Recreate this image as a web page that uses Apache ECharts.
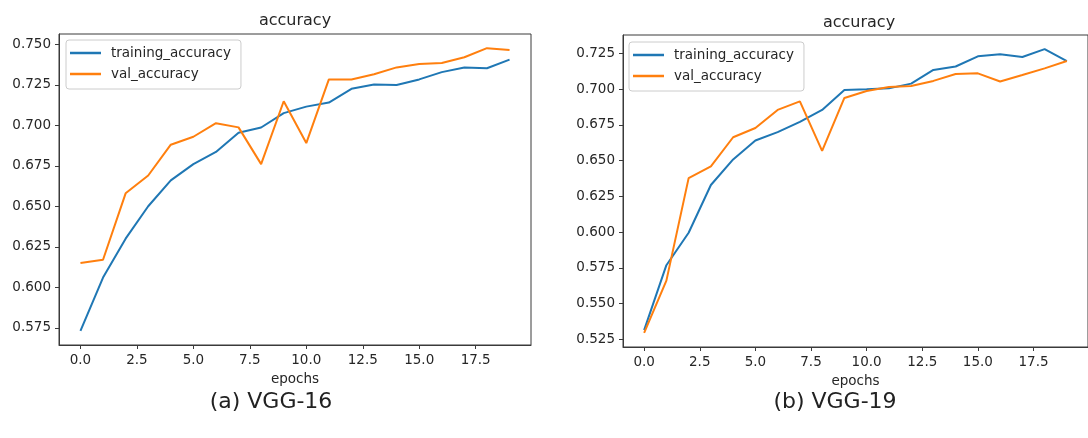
<!DOCTYPE html>
<html>
<head>
<meta charset="utf-8">
<script src="https://cdn.jsdelivr.net/npm/echarts@6/dist/echarts.min.js"></script>
<style>
html,body{margin:0;padding:0;background:#fff;}
#chart{width:1088px;height:438px;}
</style>
</head>
<body>
<div id="chart"></div>
<script>
// ---- data ----
const epochs = [0,1,2,3,4,5,6,7,8,9,10,11,12,13,14,15,16,17,18,19];
const seriesNames = ['training_accuracy', 'val_accuracy'];
const vgg16Train = [0.5731,0.606,0.630,0.650,0.666,0.676,0.6835,0.6954,0.6986,0.7075,0.7115,0.714,0.7225,0.7252,0.7248,0.7283,0.7328,0.7357,0.7352,0.7405];
const vgg16Val   = [0.615,0.617,0.658,0.669,0.688,0.6929,0.7013,0.6987,0.676,0.7148,0.689,0.7283,0.7283,0.7315,0.7357,0.7378,0.7384,0.742,0.7476,0.7465];
const vgg19Train = [0.5314,0.5768,0.5995,0.6329,0.6508,0.664,0.6699,0.6771,0.6854,0.6993,0.6998,0.7005,0.7038,0.7134,0.7158,0.7229,0.7244,0.7224,0.7279,0.7196];
const vgg19Val   = [0.5295,0.566,0.6377,0.646,0.6663,0.6728,0.6854,0.6914,0.6568,0.6938,0.6986,0.7014,0.7021,0.7057,0.7105,0.711,0.7053,0.7098,0.7145,0.7196];
const xTicks = [0,2.5,5,7.5,10,12.5,15,17.5];
const yTicks16 = [0.575,0.600,0.625,0.650,0.675,0.700,0.725,0.750];
const yTicks19 = [0.525,0.550,0.575,0.600,0.625,0.650,0.675,0.700,0.725];
const titles = ['accuracy', 'accuracy'];
const xLabel = 'epochs';
const captions = ['(a) VGG-16', '(b) VGG-19'];

// ---- helpers ----
const BLUE = '#1f77b4', ORANGE = '#ff7f0e';
const TXT = '#262626', SPINE = '#3a3a3a';
const FONT = 'DejaVu Sans';
function pairs(ys){ return epochs.map((e,i)=>[e, ys[i]]); }
function autoRange(arrs){
  const all = [].concat(...arrs);
  const lo = Math.min(...all), hi = Math.max(...all), m = (hi-lo)*0.05;
  return [lo-m, hi+m];
}
const xr = autoRange([epochs]);
const yr16 = autoRange([vgg16Train, vgg16Val]);
const yr19 = autoRange([vgg19Train, vgg19Val]);

function xAxis(gi){
  return {
    type:'value', gridIndex:gi, min:xr[0], max:xr[1],
    name:xLabel, nameLocation:'middle', nameGap:27,
    nameTextStyle:{color:TXT, fontFamily:FONT, fontSize:13.5},
    axisLine:{show:true, onZero:false, lineStyle:{color:SPINE, width:1}},
    axisTick:{show:true, length:4, lineStyle:{color:SPINE}, customValues:xTicks},
    axisLabel:{color:TXT, fontFamily:FONT, fontSize:13.5, margin:8, customValues:xTicks,
      formatter:v=>Number(v).toFixed(1)},
    splitLine:{show:false}
  };
}
function yAxis(gi, r, ticks){
  return {
    type:'value', gridIndex:gi, min:r[0], max:r[1],
    axisLine:{show:true, onZero:false, lineStyle:{color:SPINE, width:1}},
    axisTick:{show:true, length:4, lineStyle:{color:SPINE}, customValues:ticks},
    axisLabel:{color:TXT, fontFamily:FONT, fontSize:13.5, margin:8, customValues:ticks,
      formatter:v=>Number(v).toFixed(3)},
    splitLine:{show:false}
  };
}
function line(name, gi, ys, color){
  return {
    name:name, type:'line', xAxisIndex:gi, yAxisIndex:gi, data:pairs(ys),
    symbol:'none', smooth:false, animation:false,
    lineStyle:{color:color, width:2}, itemStyle:{color:color}
  };
}
function legend(left, top){
  return {
    data:seriesNames, left:left, top:top, orient:'vertical',
    icon:'rect', itemWidth:31, itemHeight:2.5, itemGap:5,
    padding:[5,10,7,4],
    borderColor:'#cccccc', borderWidth:1, borderRadius:3,
    backgroundColor:'rgba(255,255,255,0.85)',
    textStyle:{color:TXT, fontFamily:FONT, fontSize:13.5, padding:[0,0,0,5], lineHeight:16},
    selectedMode:false
  };
}

const chart = echarts.init(document.getElementById('chart'), null, {renderer:'canvas'});
chart.setOption({
  animation:false,
  backgroundColor:'#ffffff',
  grid:[
    {left:59, top:34, width:472, height:311, show:true, borderColor:SPINE, borderWidth:1, containLabel:false},
    {left:623, top:35, width:472, height:312, show:true, borderColor:SPINE, borderWidth:1, containLabel:false}
  ],
  xAxis:[xAxis(0), xAxis(1)],
  yAxis:[yAxis(0, yr16, yTicks16), yAxis(1, yr19, yTicks19)],
  legend:[legend(66, 40), legend(629, 42)],
  series:[
    line(seriesNames[0], 0, vgg16Train, BLUE),
    line(seriesNames[1], 0, vgg16Val, ORANGE),
    line(seriesNames[0], 1, vgg19Train, BLUE),
    line(seriesNames[1], 1, vgg19Val, ORANGE)
  ],
  graphic:[
    {type:'text', x:295, y:21, style:{text:titles[0], fill:TXT, font:'16px "DejaVu Sans"', textAlign:'center', textVerticalAlign:'middle'}},
    {type:'text', x:859, y:23, style:{text:titles[1], fill:TXT, font:'16px "DejaVu Sans"', textAlign:'center', textVerticalAlign:'middle'}},
    {type:'text', x:271, y:402, style:{text:captions[0], fill:'#222', font:'22px "DejaVu Sans"', textAlign:'center', textVerticalAlign:'middle'}},
    {type:'text', x:835, y:402, style:{text:captions[1], fill:'#222', font:'22px "DejaVu Sans"', textAlign:'center', textVerticalAlign:'middle'}}
  ]
});
</script>
</body>
</html>
